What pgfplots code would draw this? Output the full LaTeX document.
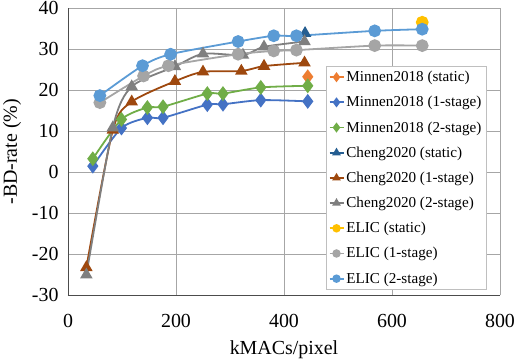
\documentclass[border=0pt]{standalone}
\usepackage{fontspec}
\setmainfont{Liberation Serif}
\usepackage{pgfplots}
\pgfplotsset{compat=1.18}
\definecolor{mstat}{HTML}{ED7D31}
\definecolor{mone}{HTML}{4472C4}
\definecolor{mtwo}{HTML}{70AD47}
\definecolor{cstat}{HTML}{255E91}
\definecolor{cone}{HTML}{9E480E}
\definecolor{ctwo}{HTML}{7F7F7F}
\definecolor{estat}{HTML}{FFC000}
\definecolor{eone}{HTML}{A5A5A5}
\definecolor{etwo}{HTML}{5B9BD5}
\begin{document}
\begin{tikzpicture}
\useasboundingbox (-68bp,-64.7bp) rectangle (448bp,295.3bp);
\begin{axis}[
  scale only axis,
  width=432bp, height=287bp,
  xmin=0, xmax=800, ymin=-30, ymax=40,
  xtick={0,200,400,600,800},
  ytick={-30,-20,-10,0,10,20,30,40},
  xticklabel={\mbox{\pgfmathprintnumber[assume math mode=true]{\tick}}},
  yticklabel={\mbox{\pgfmathprintnumber[assume math mode=true]{\tick}}},
  tick label style={font=\rmfamily\fontsize{20}{22}\selectfont},
  xticklabel style={yshift=-15bp},
  yticklabel style={xshift=-6bp},
  major tick length=0pt,
  axis lines*=left,
  axis line style={draw=black!70, line width=0.8pt, -},
  grid=major, grid style={draw=black!35, line width=0.6pt},
  xlabel={kMACs/pixel}, ylabel={-BD-rate (\%)},
  label style={font=\fontsize{20}{22}\selectfont},
  xlabel style={yshift=-7bp},
  ylabel style={yshift=4bp},
  every axis plot/.append style={line width=1.8bp, smooth, tension=0.45},
  legend style={at={(0.597,0.799)}, anchor=north west, draw=black!25, fill=white,
    font=\fontsize{15.2}{17}\selectfont, row sep=9.2bp, inner xsep=2.5bp, inner ysep=3bp},
  legend cell align=left,
  legend image code/.code={\draw[mark repeat=2,mark phase=2,mark options={scale=0.6}] plot coordinates {(0bp,0bp)(7bp,0bp)(14bp,0bp)};},
]
\addplot[mstat, mark=diamond*, mark size=6] coordinates {(444,23.3)};
\addlegendentry{Minnen2018 (static)}
\addplot[mone, mark=diamond*, mark size=6] coordinates {(46,1.5)(99,10.8)(147,13.3)(176,13.3)(258,16.5)(287,16.6)(357,17.6)(444,17.3)};
\addlegendentry{Minnen2018 (1-stage)}
\addplot[mtwo, mark=diamond*, mark size=6] coordinates {(46,3.3)(99,12.9)(147,15.8)(176,16.0)(258,19.2)(287,19.2)(357,20.7)(444,21.1)};
\addlegendentry{Minnen2018 (2-stage)}
\addplot[cstat, mark=triangle*, mark size=5.5] coordinates {(439,33.9)};
\addlegendentry{Cheng2020 (static)}
\addplot[cone, mark=triangle*, mark size=5.5] coordinates {(34,-23.2)(83,10.3)(118,17.2)(198,22.2)(250,24.5)(321,24.7)(363,25.9)(438,26.7)};
\addlegendentry{Cheng2020 (1-stage)}
\addplot[ctwo, mark=triangle*, mark size=5.5] coordinates {(34,-25.0)(83,10.9)(118,20.9)(198,25.8)(250,28.9)(324,28.6)(363,30.6)(438,31.9)};
\addlegendentry{Cheng2020 (2-stage)}
\addplot[estat, mark=*, mark size=5.5] coordinates {(656,36.6)};
\addlegendentry{ELIC (static)}
\addplot[eone, mark=*, mark size=5.5] coordinates {(59,17.0)(140,23.5)(186,26.0)(315,28.8)(381,29.6)(423,29.8)(568,30.9)(656,30.9)};
\addlegendentry{ELIC (1-stage)}
\addplot[etwo, mark=*, mark size=5.5] coordinates {(59,18.7)(138,26.0)(190,28.8)(315,31.9)(381,33.3)(423,33.3)(568,34.5)(656,34.9)};
\addlegendentry{ELIC (2-stage)}
\end{axis}
\end{tikzpicture}
\end{document}
